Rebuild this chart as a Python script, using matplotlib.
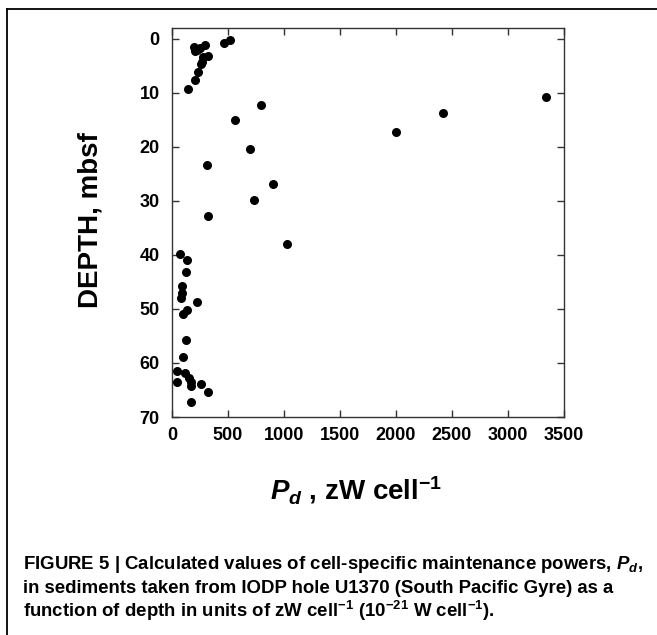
import matplotlib
matplotlib.use("Agg")
import matplotlib.pyplot as plt
from matplotlib.lines import Line2D

plt.rcParams['font.family'] = ['Liberation Sans', 'DejaVu Sans']
plt.rcParams['font.weight'] = 'bold'
plt.rcParams['mathtext.fontset'] = 'custom'
plt.rcParams['mathtext.rm'] = 'Liberation Sans:bold'
plt.rcParams['mathtext.bf'] = 'Liberation Sans:bold'
plt.rcParams['mathtext.it'] = 'Liberation Sans:bold:italic'

# cell-specific maintenance power (zW/cell) vs depth (mbsf)
power = [518, 464, 295, 199, 220, 250, 205, 324, 280, 265, 260, 229, 202, 146,
         3337, 795, 2417, 562, 1997, 696, 310, 905, 735, 318, 1024,
         71, 137, 125, 87, 92, 80, 220, 137, 95, 125, 101,
         47, 116, 155, 47, 167, 167, 259, 318, 167]
depth = [0.2, 0.7, 1.1, 1.6, 2.0, 1.7, 2.2, 3.1, 3.3, 4.3, 4.7, 6.2, 7.7, 9.3,
         10.8, 12.3, 13.7, 15.0, 17.3, 20.4, 23.3, 26.8, 29.9, 32.8, 37.9,
         39.8, 41.0, 43.1, 45.8, 47.1, 47.9, 48.8, 50.2, 50.9, 55.8, 58.9,
         61.5, 61.9, 62.7, 63.5, 63.5, 64.2, 63.9, 65.3, 67.3]

xticks = [0, 500, 1000, 1500, 2000, 2500, 3000, 3500]
yticks = [0, 10, 20, 30, 40, 50, 60, 70]

fig = plt.figure(figsize=(6.57, 6.35), dpi=100)
ax = fig.add_axes([0.2618, 0.3433, 0.5966, 0.6126])

ax.scatter(power, depth, s=30, color='black', zorder=3)

ax.set_xlim(0, 3500)
ax.set_ylim(70, -2)
ax.set_xticks(xticks)
ax.set_yticks(yticks)
ax.tick_params(direction='in', length=5, width=1, top=True, right=True,
               labelsize=13, color='#333333')
ax.tick_params(axis='y', pad=9)
ax.tick_params(axis='x', pad=7)
for sp in ax.spines.values():
    sp.set_linewidth(1.0)
    sp.set_color('#333333')

ax.set_ylabel('DEPTH, mbsf', fontsize=20, fontweight='bold')
ax.yaxis.set_label_coords(-0.175, 0.505)
ax.set_xlabel(r'$P_d$ , zW cell$^{-1}$', fontsize=20, fontweight='bold')
ax.xaxis.set_label_coords(0.469, -0.148)

# frame around figure panel
fig.add_artist(Line2D([0.0114, 0.0114], [0.0, 0.9858], transform=fig.transFigure,
                      color='black', lw=1.3))
fig.add_artist(Line2D([0.0114, 1.0], [0.9858, 0.9858], transform=fig.transFigure,
                      color='black', lw=1.3))

caption = [
    r'FIGURE 5 | Calculated values of cell-specific maintenance powers, $P_d$,',
    'in sediments taken from IODP hole U1370 (South Pacific Gyre) as a',
    r'function of depth in units of zW cell$^{-1}$ (10$^{-21}$ W cell$^{-1}$).',
]
for i, line in enumerate(caption):
    fig.text(0.035, 1 - (569 + 24 * i) / 635, line, fontsize=13.4,
             fontweight='bold', va='baseline', ha='left')

fig.savefig('out.png', dpi=100)
